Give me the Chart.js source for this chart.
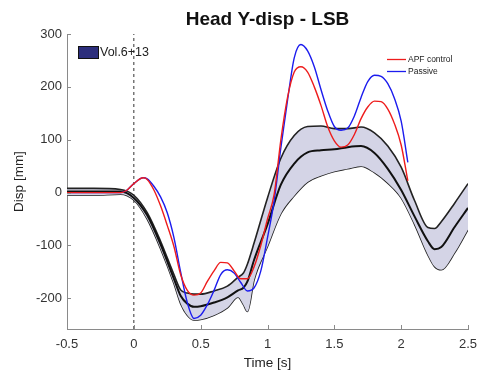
<!DOCTYPE html>
<html>
<head>
<meta charset="utf-8">
<script src="https://cdn.jsdelivr.net/npm/chart.js@4"></script>
<style>
  html, body { margin: 0; padding: 0; background: #fff; }
</style>
</head>
<body>
<canvas id="chart" width="479" height="374"></canvas>
<script>
// corridor (Vol.6+13): upper bound, mean, lower bound
const bandTime  = [-0.5,-0.3,-0.1,0,0.1,0.2,0.3,0.35,0.4,0.45,0.5,0.6,0.7,0.78,0.82,0.85,0.9,1.0,1.1,1.2,1.3,1.4,1.5,1.6,1.7,1.8,1.9,2.0,2.1,2.2,2.25,2.3,2.4,2.5];
const bandUpper = [8,8,6,-5,-38,-92,-155,-184,-190,-192,-192,-186,-177,-160,-152,-135,-95,-10,65,108,125,126,121,121,124,113,88,48,-15,-66,-68,-55,-20,17];
const bandMean  = [2,2,2,-10,-43,-98,-163,-195,-210,-216,-215,-208,-198,-185,-180,-168,-127,-60,15,55,76,80,82,86,88,75,45,5,-45,-92,-107,-103,-65,-29];
const bandLower = [-5,-5,-3,-14,-50,-106,-172,-210,-232,-241,-240,-232,-218,-198,-212,-225,-165,-102,-40,-6,20,32,40,45,50,38,18,-10,-60,-118,-140,-146,-114,-70];

// simulation runs
const simTime     = [-0.5,-0.3,-0.1,-0.05,0,0.07,0.1,0.15,0.2,0.25,0.3,0.35,0.4,0.45,0.5,0.55,0.6,0.65,0.7,0.75,0.8,0.85,0.9,0.95,1.0,1.05,1.1,1.15,1.2,1.25,1.3,1.35,1.4,1.45,1.5,1.55,1.6,1.65,1.7,1.75,1.8,1.85,1.9,1.95,2.0,2.05];
const apfControl  = [0,0,0,5,17,28,25,5,-25,-62,-102,-155,-185,-194,-190,-168,-148,-132,-133,-148,-163,-163,-140,-100,-50,-3,100,180,228,238,228,200,165,125,98,86,90,110,140,162,173,172,158,130,90,22];
const passive     = [0,0,0,5,17,28,26,12,-8,-38,-85,-150,-208,-238,-232,-212,-185,-155,-146,-152,-170,-186,-180,-148,-85,-15,85,175,255,280,268,238,195,155,125,118,122,145,180,210,222,220,206,178,135,57];

const xTicks = [-0.5, 0, 0.5, 1, 1.5, 2, 2.5];
const yTicks = [-200, -100, 0, 100, 200, 300];
const xMin = -0.5, xMax = 2.5, yMin = -258, yMax = 300;
const titleText = 'Head Y-disp - LSB';

const pts = (xs, ys) => xs.map((x, i) => ({ x: x, y: ys[i] }));
const FONT = '"Liberation Sans", Arial, sans-serif';

// title over the axes, MATLAB-style inward ticks, and the two legends
const extras = {
  id: 'extras',
  afterDraw(chart) {
    const c = chart.ctx, a = chart.chartArea;
    const xs = chart.scales.x, ys = chart.scales.y;
    c.save();
    c.fillStyle = '#111';
    c.font = 'bold 19px ' + FONT;
    c.textAlign = 'center';
    c.textBaseline = 'middle';
    c.fillText(titleText, (a.left + a.right) / 2, 20);
    c.textAlign = 'left';

    c.strokeStyle = '#8a8a8a';
    c.lineWidth = 1;
    c.beginPath();
    xTicks.forEach(v => {
      const px = Math.round(xs.getPixelForValue(v)) + 0.5;
      c.moveTo(px, a.bottom); c.lineTo(px, a.bottom - 4);
    });
    yTicks.forEach(v => {
      const py = Math.round(ys.getPixelForValue(v)) + 0.5;
      c.moveTo(a.left, py); c.lineTo(a.left + 4, py);
    });
    c.stroke();

    // corridor legend
    c.fillStyle = '#2c2e7c';
    c.fillRect(78, 46, 21, 13);
    c.strokeStyle = '#111';
    c.strokeRect(78.5, 46.5, 20, 12);
    c.fillStyle = '#222';
    c.font = '12.5px ' + FONT;
    c.fillText('Vol.6+13', 100, 53);

    // runs legend
    c.lineWidth = 1.3;
    c.strokeStyle = '#ee1c1c';
    c.beginPath(); c.moveTo(387, 59.5); c.lineTo(406, 59.5); c.stroke();
    c.strokeStyle = '#1c1cee';
    c.beginPath(); c.moveTo(387, 71.5); c.lineTo(406, 71.5); c.stroke();
    c.font = '8.5px ' + FONT;
    c.fillStyle = '#222';
    c.fillText('APF control', 408, 60);
    c.fillText('Passive', 408, 72);
    c.restore();
  }
};

const lineBase = { pointRadius: 0, cubicInterpolationMode: 'monotone', fill: false };

new Chart(document.getElementById('chart'), {
  type: 'line',
  data: {
    datasets: [
      Object.assign({}, lineBase, { label: 'APF control', data: pts(simTime, apfControl), borderColor: '#ee1c1c', borderWidth: 1.4, order: 1 }),
      Object.assign({}, lineBase, { label: 'Passive', data: pts(simTime, passive), borderColor: '#1c1cee', borderWidth: 1.4, order: 1 }),
      Object.assign({}, lineBase, { label: 'Mean', data: pts(bandTime, bandMean), borderColor: '#111', borderWidth: 2, order: 2 }),
      Object.assign({}, lineBase, { label: 'Upper', data: pts(bandTime, bandUpper), borderColor: '#222', borderWidth: 1.6, order: 3,
        fill: '+1', backgroundColor: 'rgba(212,212,230,1)' }),
      Object.assign({}, lineBase, { label: 'Lower', data: pts(bandTime, bandLower), borderColor: '#222', borderWidth: 1.6, order: 3 }),
      { label: 't0', data: [{ x: 0, y: yMin }, { x: 0, y: yMax }], borderColor: '#333', borderWidth: 1,
        borderDash: [3, 3], pointRadius: 0, fill: false, order: 5 }
    ]
  },
  options: {
    responsive: false,
    animation: false,
    devicePixelRatio: 1,
    layout: { padding: { left: 0, right: 0, top: 34, bottom: 0 } },
    plugins: {
      legend: { display: false },
      tooltip: { enabled: false },
      title: { display: false }
    },
    scales: {
      x: {
        type: 'linear', min: xMin, max: xMax,
        afterBuildTicks: s => { s.ticks = xTicks.map(v => ({ value: v })); },
        afterFit: s => { s.height = 45; s.paddingRight = 11; },
        grid: { drawOnChartArea: false, drawTicks: false },
        border: { display: true, color: '#8a8a8a', width: 1 },
        ticks: { color: '#333', padding: 8, maxRotation: 0,
          callback: v => String(v),
          font: { family: FONT, size: 13 } },
        title: { display: true, text: 'Time [s]', color: '#222', padding: { top: 0, bottom: 3 },
          font: { family: FONT, size: 13.5 } }
      },
      y: {
        type: 'linear', min: yMin, max: yMax,
        afterBuildTicks: s => { s.ticks = yTicks.map(v => ({ value: v })); },
        afterFit: s => { s.width = 67; },
        grid: { drawOnChartArea: false, drawTicks: false },
        border: { display: true, color: '#8a8a8a', width: 1 },
        ticks: { color: '#333', padding: 5,
          font: { family: FONT, size: 13 } },
        title: { display: true, text: 'Disp [mm]', color: '#222', padding: { top: 11, bottom: 0 },
          font: { family: FONT, size: 13.5 } }
      }
    }
  },
  plugins: [extras]
});
</script>
</body>
</html>
